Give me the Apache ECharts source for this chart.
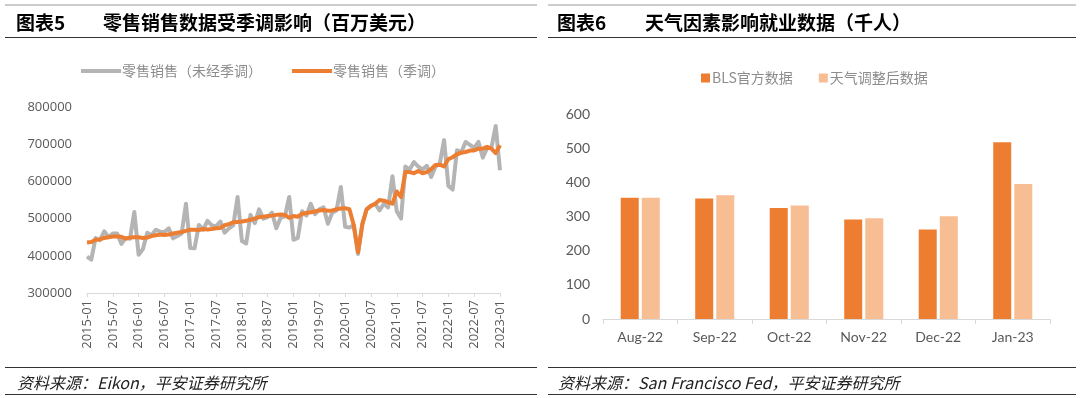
<!DOCTYPE html>
<html>
<head>
<meta charset="utf-8">
<script src="https://cdn.jsdelivr.net/npm/echarts@6/dist/echarts.min.js"></script>
<style>
  html, body { margin: 0; padding: 0; background: #fff; }
  #main { width: 1080px; height: 398px; }
</style>
</head>
<body>
<div id="main"></div>
<script>
// 图表5：零售销售（百万美元），2015-01 ~ 2023-01 月度
var monthLabels = [];
for (var y = 2015; y <= 2023; y++) {
  for (var m = 1; m <= 12; m++) {
    if (y === 2023 && m > 1) break;
    monthLabels.push(y + "-" + (m < 10 ? "0" + m : m));
  }
}
// 零售销售（未经季调）
var retailNsa = [
  398000, 390000, 448000, 442000, 466000, 450000, 460000, 460000, 432000, 448000, 446000, 518000,
  403000, 418000, 462000, 455000, 470000, 465000, 464000, 474000, 447000, 453000, 460000, 540000,
  421000, 420000, 483000, 470000, 494000, 482000, 479000, 492000, 462000, 474000, 482000, 558000,
  440000, 433000, 510000, 488000, 525000, 500000, 504000, 516000, 474000, 502000, 506000, 558000,
  443000, 448000, 520000, 508000, 540000, 512000, 525000, 530000, 486000, 516000, 522000, 585000,
  478000, 476000, 482000, 405000, 485000, 525000, 535000, 540000, 522000, 540000, 530000, 614000,
  520000, 500000, 640000, 632000, 652000, 640000, 632000, 642000, 612000, 640000, 648000, 711000,
  588000, 578000, 684000, 678000, 706000, 698000, 690000, 706000, 664000, 690000, 690000, 749000,
  630000
];
// 零售销售（季调）
var retailSa = [
  436000, 437000, 443000, 444000, 448000, 450000, 452000, 452000, 451000, 446000, 449000, 450000,
  450000, 448000, 449000, 453000, 455000, 457000, 456000, 457000, 460000, 462000, 464000, 467000,
  470000, 470000, 469000, 472000, 471000, 472000, 474000, 475000, 482000, 485000, 490000, 491000,
  492000, 494000, 497000, 500000, 504000, 505000, 507000, 508000, 510000, 511000, 510000, 502000,
  507000, 505000, 513000, 515000, 517000, 519000, 522000, 523000, 521000, 522000, 525000, 527000,
  528000, 525000, 483000, 410000, 485000, 525000, 534000, 540000, 550000, 548000, 544000, 540000,
  573000, 558000, 625000, 625000, 622000, 628000, 622000, 625000, 633000, 644000, 645000, 640000,
  660000, 665000, 673000, 677000, 679000, 683000, 683000, 688000, 688000, 693000, 688000, 676000,
  697000
];

// 图表6：天气因素影响就业数据（千人）
var jobMonths = ["Aug-22", "Sep-22", "Oct-22", "Nov-22", "Dec-22", "Jan-23"];
var blsJobs = [355, 353, 325, 291, 262, 517];
var weatherAdjJobs = [355, 362, 332, 295, 301, 395];

var cjk = '"Noto Sans CJK SC", sans-serif';
var labelColor = "#595959";
var axisColor = "#D9D9D9";

var chart = echarts.init(document.getElementById("main"));
var options = {
  backgroundColor: "#fff",
  animation: false,
  title: [
    { text: "图表5", left: 11, top: 8, textStyle: { fontFamily: cjk, fontSize: 19, fontWeight: "bold", color: "#000" } },
    { text: "零售销售数据受季调影响（百万美元）", left: 98, top: 8, textStyle: { fontFamily: cjk, fontSize: 19, fontWeight: "bold", color: "#000" } },
    { text: "图表6", left: 552, top: 8, textStyle: { fontFamily: cjk, fontSize: 19, fontWeight: "bold", color: "#000" } },
    { text: "天气因素影响就业数据（千人）", left: 640, top: 8, textStyle: { fontFamily: cjk, fontSize: 19, fontWeight: "bold", color: "#000" } },
    { text: "资料来源：Eikon，平安证券研究所", left: 12, top: 370, textStyle: { fontFamily: cjk, fontSize: 16, fontStyle: "italic", fontWeight: "normal", color: "#222" } },
    { text: "资料来源：San Francisco Fed，平安证券研究所", left: 553, top: 370, textStyle: { fontFamily: cjk, fontSize: 16, fontStyle: "italic", fontWeight: "normal", color: "#222" } },
  ],
  graphic: [
    { type: "line", shape: { x1: 5, y1: 5, x2: 537, y2: 5 }, style: { stroke: "#999", lineWidth: 1 } },
    { type: "line", shape: { x1: 5, y1: 37.5, x2: 537, y2: 37.5 }, style: { stroke: "#333", lineWidth: 1 } },
    { type: "line", shape: { x1: 5, y1: 367.5, x2: 537, y2: 367.5 }, style: { stroke: "#333", lineWidth: 1 } },
    { type: "line", shape: { x1: 5, y1: 394.5, x2: 537, y2: 394.5 }, style: { stroke: "#333", lineWidth: 1 } },
    { type: "line", shape: { x1: 548, y1: 5, x2: 1076, y2: 5 }, style: { stroke: "#999", lineWidth: 1 } },
    { type: "line", shape: { x1: 548, y1: 37.5, x2: 1076, y2: 37.5 }, style: { stroke: "#333", lineWidth: 1 } },
    { type: "line", shape: { x1: 548, y1: 367.5, x2: 1076, y2: 367.5 }, style: { stroke: "#333", lineWidth: 1 } },
    { type: "line", shape: { x1: 548, y1: 394.5, x2: 1076, y2: 394.5 }, style: { stroke: "#333", lineWidth: 1 } },
  ],
  legend: [
    {
      left: 76,
      top: 59,
      itemWidth: 40,
      itemHeight: 4,
      itemGap: 30,
      icon: "rect",
      data: ["零售销售（未经季调）", "零售销售（季调）"],
      textStyle: { fontFamily: cjk, fontSize: 14, color: "#8C8C8C", padding: [0, 0, 0, -4] },
    },
    {
      left: 696,
      top: 66,
      itemWidth: 9,
      itemHeight: 9,
      itemGap: 26,
      icon: "rect",
      data: ["BLS官方数据", "天气调整后数据"],
      textStyle: { fontFamily: cjk, fontSize: 14, color: "#8C8C8C", padding: [0, 0, 0, -3] },
    },
  ],
  grid: [
    { left: 87, right: 580, top: 107, bottom: 105 },
    { left: 603, right: 30, top: 114, bottom: 79 },
  ],
  xAxis: [
    {
      gridIndex: 0,
      type: "category",
      boundaryGap: false,
      data: monthLabels,
      axisLine: { lineStyle: { color: axisColor, width: 1 } },
      axisTick: { show: true, interval: 5, length: 4, lineStyle: { color: axisColor } },
      axisLabel: {
        interval: 5,
        rotate: 90,
        margin: 7,
        color: labelColor,
        fontFamily: "Open Sans",
        fontSize: 13,
      },
    },
    {
      gridIndex: 1,
      type: "category",
      data: jobMonths,
      axisLine: { lineStyle: { color: axisColor, width: 1 } },
      axisTick: { show: true, length: 5, lineStyle: { color: axisColor } },
      axisLabel: { margin: 11, color: labelColor, fontFamily: "Lato", fontSize: 14 },
    },
  ],
  yAxis: [
    {
      gridIndex: 0,
      type: "value",
      min: 300000,
      max: 800000,
      interval: 100000,
      axisLine: { show: false },
      axisTick: { show: false },
      splitLine: { show: false },
      axisLabel: {
        margin: 15,
        color: labelColor,
        fontFamily: "Open Sans",
        fontSize: 13,
        formatter: function (v) {
          return String(v);
        },
      },
    },
    {
      gridIndex: 1,
      type: "value",
      min: 0,
      max: 600,
      interval: 100,
      axisLine: { show: false },
      axisTick: { show: false },
      splitLine: { show: false },
      axisLabel: { margin: 13, color: labelColor, fontFamily: "Lato", fontSize: 14 },
    },
  ],
  series: [
    {
      name: "零售销售（未经季调）",
      type: "line",
      xAxisIndex: 0,
      yAxisIndex: 0,
      data: retailNsa,
      showSymbol: false,
      symbol: "none",
      lineStyle: { color: "#B4B4B4", width: 4, join: "round" },
      itemStyle: { color: "#B4B4B4" },
    },
    {
      name: "零售销售（季调）",
      type: "line",
      xAxisIndex: 0,
      yAxisIndex: 0,
      data: retailSa,
      showSymbol: false,
      symbol: "none",
      lineStyle: { color: "#ED7D31", width: 4, join: "round" },
      itemStyle: { color: "#ED7D31" },
    },
    {
      name: "BLS官方数据",
      type: "bar",
      xAxisIndex: 1,
      yAxisIndex: 1,
      data: blsJobs,
      barWidth: 18,
      barGap: "17%",
      itemStyle: { color: "#ED7D31" },
    },
    {
      name: "天气调整后数据",
      type: "bar",
      xAxisIndex: 1,
      yAxisIndex: 1,
      data: weatherAdjJobs,
      barWidth: 18,
      itemStyle: { color: "#F7BD93" },
    },
  ],
};
chart.setOption(options, true);
</script>
</body>
</html>
